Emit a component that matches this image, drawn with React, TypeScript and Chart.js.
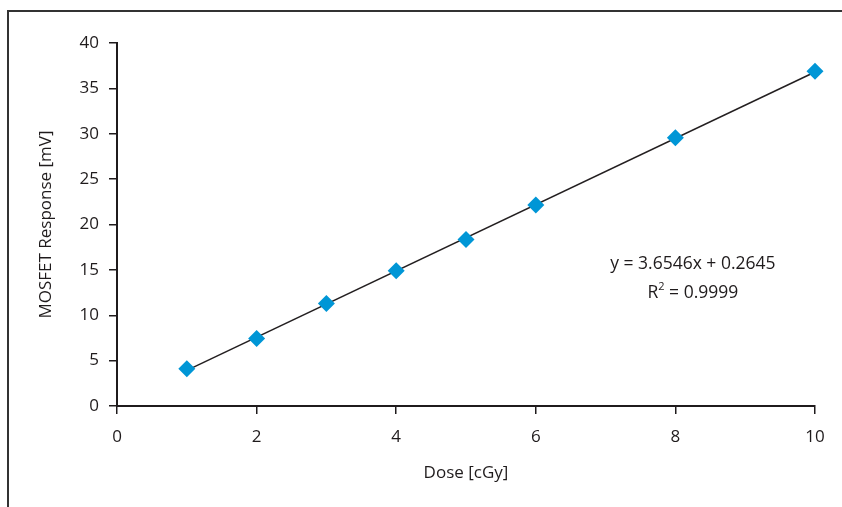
import React, { useEffect, useRef } from "react";
import { Chart, registerables } from "chart.js";

Chart.register(...registerables);

const doseValues = [1, 2, 3, 4, 5, 6, 8, 10];
const responseValues = [4.1, 7.45, 11.3, 14.9, 18.35, 22.15, 29.55, 36.9];
const trendX = [1, 10];
const trendY = [3.92, 36.81];
const equationLines = ["y = 3.6546x + 0.2645", "R", "2", " = 0.9999"];

const FONT = "'Open Sans', 'Noto Sans', sans-serif";
const TEXT = "#1f1b1c";

const equationPlugin = {
  id: "equationText",
  afterDraw(chart: any) {
    const { ctx, scales } = chart;
    const cx = scales.x.getPixelForValue(8.25);
    const y1 = scales.y.getPixelForValue(15.65);
    const y2 = scales.y.getPixelForValue(12.45);
    ctx.save();
    ctx.fillStyle = TEXT;
    ctx.textBaseline = "middle";
    ctx.font = `17.5px ${FONT}`;
    ctx.textAlign = "center";
    ctx.fillText(equationLines[0], cx, y1);
    ctx.textAlign = "left";
    const wR = ctx.measureText(equationLines[1]).width;
    const wRest = ctx.measureText(equationLines[3]).width;
    ctx.font = `11px ${FONT}`;
    const wSup = ctx.measureText(equationLines[2]).width;
    const total = wR + wSup + wRest;
    let x = cx - total / 2;
    ctx.font = `17.5px ${FONT}`;
    ctx.fillText(equationLines[1], x, y2);
    x += wR;
    ctx.font = `11px ${FONT}`;
    ctx.fillText(equationLines[2], x, y2 - 6);
    x += wSup;
    ctx.font = `17.5px ${FONT}`;
    ctx.fillText(equationLines[3], x, y2);
    ctx.restore();
  },
};

export default function App() {
  const ref = useRef<HTMLCanvasElement | null>(null);

  useEffect(() => {
    if (!ref.current) return;
    const chart = new Chart(ref.current, {
      type: "scatter",
      data: {
        datasets: [
          {
            label: "MOSFET",
            data: doseValues.map((d, i) => ({ x: d, y: responseValues[i] })),
            pointStyle: "rectRot",
            pointRadius: 8.5,
            pointHoverRadius: 8.5,
            backgroundColor: "#0096d6",
            borderColor: "#0096d6",
            borderWidth: 0,
            showLine: false,
            clip: false,
          },
          {
            label: "Trend",
            data: trendX.map((d, i) => ({ x: d, y: trendY[i] })),
            showLine: true,
            pointRadius: 0,
            borderColor: "#231f20",
            borderWidth: 1.5,
            backgroundColor: "#231f20",
            clip: false,
          },
        ],
      },
      options: {
        animation: false,
        responsive: false,
        maintainAspectRatio: false,
        layout: { padding: { left: 0, top: 43, right: 27, bottom: 0 } },
        plugins: {
          legend: { display: false },
          tooltip: { enabled: false },
        },
        scales: {
          x: {
            type: "linear",
            min: 0,
            max: 10,
            afterFit: (s: any) => {
              s.height = 101;
            },
            ticks: {
              stepSize: 2,
              color: TEXT,
              font: { family: FONT, size: 17 },
              padding: 13,
            },
            grid: {
              display: true,
              drawOnChartArea: false,
              drawTicks: true,
              tickLength: 8,
              color: TEXT,
              lineWidth: 1.5,
            },
            border: { display: true, color: TEXT, width: 2 },
            title: {
              display: true,
              text: "Dose [cGy]",
              color: TEXT,
              font: { family: FONT, size: 17 },
              padding: { top: 0, bottom: 24 },
            },
          },
          y: {
            type: "linear",
            min: 0,
            max: 40,
            afterFit: (s: any) => {
              s.width = 117;
            },
            ticks: {
              stepSize: 5,
              color: TEXT,
              font: { family: FONT, size: 17 },
              padding: 10,
            },
            grid: {
              display: true,
              drawOnChartArea: false,
              drawTicks: true,
              tickLength: 8,
              color: TEXT,
              lineWidth: 1.5,
            },
            border: { display: true, color: TEXT, width: 2 },
            title: {
              display: true,
              text: "MOSFET Response [mV]",
              color: TEXT,
              font: { family: FONT, size: 17 },
              padding: { top: 36, bottom: 0 },
            },
          },
        },
      },
      plugins: [equationPlugin],
    });
    return () => chart.destroy();
  }, []);

  return (
    <div
      style={{
        position: "fixed",
        left: 0,
        top: 0,
        width: 842,
        height: 507,
        background: "#fff",
        overflow: "hidden",
      }}
    >
      <div
        style={{
          position: "absolute",
          left: 7,
          top: 10,
          width: 900,
          height: 600,
          borderLeft: "2px solid #333",
          borderTop: "2px solid #333",
        }}
      />
      <canvas
        ref={ref}
        width={842}
        height={507}
        style={{ position: "absolute", left: 0, top: 0, width: 842, height: 507 }}
      />
    </div>
  );
}
